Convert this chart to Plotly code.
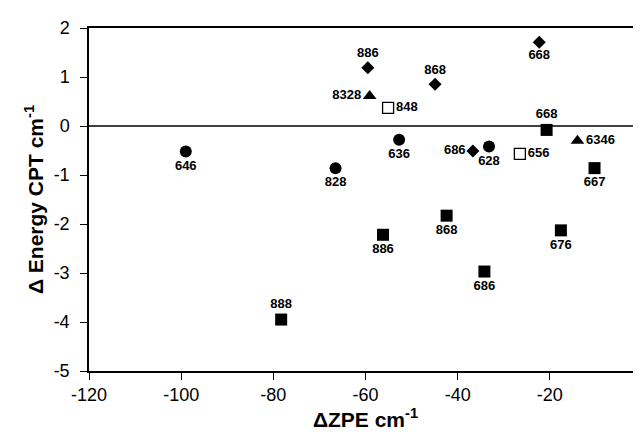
import plotly.graph_objects as go

# Circles
circ_x = [-99.0, -66.5, -52.7, -33.2]
circ_y = [-0.52, -0.86, -0.28, -0.42]
circ_lab = ["646", "828", "636", "628"]
circ_pos = ["bottom center", "bottom center", "bottom center", "bottom center"]

# Diamonds
dia_x = [-59.5, -44.9, -22.3, -36.7]
dia_y = [1.19, 0.85, 1.71, -0.51]
dia_lab = ["886", "868", "668", "686"]
dia_pos = ["top center", "top center", "bottom center", "middle left"]

# Triangles
tri_x = [-59.1, -14.0]
tri_y = [0.61, -0.30]
tri_lab = ["8328", "6346"]
tri_pos = ["middle left", "middle right"]

# Filled squares
sq_x = [-78.3, -20.7, -10.3, -56.2, -42.4, -34.2, -17.6]
sq_y = [-3.95, -0.08, -0.86, -2.22, -1.83, -2.97, -2.13]
sq_lab = ["888", "668", "667", "886", "868", "686", "676"]
sq_pos = ["top center", "top center", "bottom center", "bottom center",
          "bottom center", "bottom center", "bottom center"]

# Open squares
osq_x = [-55.1, -26.5]
osq_y = [0.37, -0.57]
osq_lab = ["848", "656"]
osq_pos = ["middle right", "middle right"]

x_ticks = [-120, -100, -80, -60, -40, -20, 0]
y_ticks = [-5, -4, -3, -2, -1, 0, 1, 2]

lab_font = dict(family="Liberation Sans, Arial", size=13, color="black")

def add(xs, ys, labs, pos, symbol, size, line_w=0, color="black"):
    fig.add_trace(go.Scatter(
        x=xs, y=ys, mode="markers+text", text=labs, textposition=pos,
        textfont=lab_font, texttemplate="<b>%{text}</b>",
        marker=dict(symbol=symbol, size=size, color=color,
                    line=dict(color="black", width=line_w)),
        showlegend=False, cliponaxis=False))

fig = go.Figure()
add(circ_x, circ_y, circ_lab, circ_pos, "circle", 12)
add(dia_x, dia_y, dia_lab, dia_pos, "diamond", 10)
add(tri_x, tri_y, tri_lab, tri_pos, "triangle-up", 12)
add(sq_x, sq_y, sq_lab, sq_pos, "square", 12)
add(osq_x, osq_y, osq_lab, osq_pos, "square", 11, line_w=1.3, color="white")

fig.add_shape(type="line", xref="paper", x0=0, x1=1, yref="y", y0=0, y1=0,
              line=dict(color="black", width=1.5), layer="below")

fig.update_layout(
    width=641, height=435,
    margin=dict(l=81, r=7, t=20, b=72, autoexpand=False),
    paper_bgcolor="white", plot_bgcolor="white",
    font=dict(family="Liberation Sans, Arial", color="black"),
)
fig.update_xaxes(
    range=[-120, 0], tickvals=x_ticks, ticktext=[str(v) for v in x_ticks],
    showgrid=False, zeroline=False, showline=True, linecolor="black",
    linewidth=1.5, mirror=True, ticks="outside", ticklen=7, tickcolor="black",
    tickfont=dict(size=18), automargin=False, ticklabelstandoff=0,
    title=dict(text="<b>\u0394ZPE cm<sup>-1</sup></b>", font=dict(size=21), standoff=0),
)
fig.update_yaxes(
    range=[-5, 2], tickvals=y_ticks, ticktext=[str(v) for v in y_ticks],
    showgrid=False, zeroline=False, showline=True, linecolor="black",
    linewidth=1.5, mirror=True, ticks="outside", ticklen=7, tickcolor="black",
    tickfont=dict(size=18), automargin=False, ticklabelstandoff=7,
    title=dict(text="<b>\u0394 Energy CPT cm<sup>-1</sup></b>", font=dict(size=21), standoff=4),
)

fig.write_html("out.html")
